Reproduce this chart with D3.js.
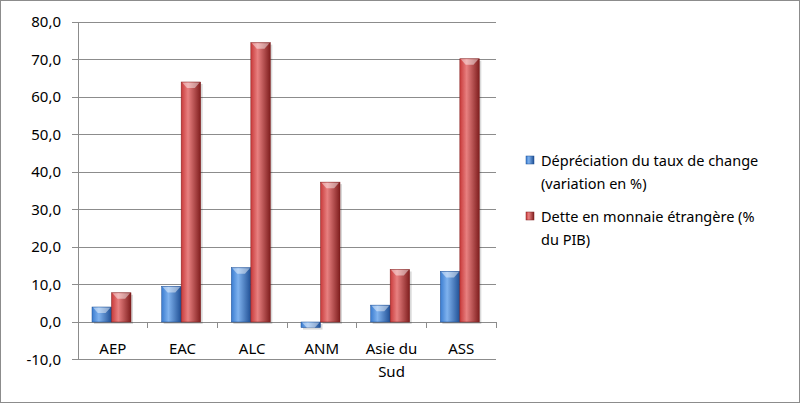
<!DOCTYPE html>
<html><head><meta charset="utf-8">
<script src="https://cdn.jsdelivr.net/npm/d3@7"></script>
<style>body{margin:0;background:#fff}text{font-family:"Noto Sans",sans-serif;fill:#000}</style>
</head><body>
<svg id="c" width="800" height="403"></svg>
<script>
const categories = ['AEP','EAC','ALC','ANM','Asie du Sud','ASS'];
const depreciation = [4.0, 9.5, 14.5, -1.5, 4.5, 13.5];
const dette = [7.8, 64.0, 74.5, 37.3, 14.0, 70.2];
const seriesNames = [['Dépréciation du taux de change','(variation en %)'],['Dette en monnaie étrangère (%','du PIB)']];
const yTicks = [-10,0,10,20,30,40,50,60,70,80];

const svg = d3.select('#c');
svg.append('rect').attr('x',0.5).attr('y',0.5).attr('width',799).attr('height',402)
  .attr('fill','#fff').attr('stroke','#8c8c8c');

const defs = svg.append('defs');
const pal = [['#7fb2ee','#3a7cd0','#1f4f94'],['#e88080','#c83a3a','#7f1e1e']];
pal.forEach((p,i)=>{
  const g = defs.append('linearGradient').attr('id','g'+i);
  g.append('stop').attr('offset','0%').attr('stop-color',p[1]);
  g.append('stop').attr('offset','35%').attr('stop-color',p[0]);
  g.append('stop').attr('offset','100%').attr('stop-color',p[2]);
});

const x = d3.scaleBand().domain(categories).range([78,496]);
const y = d3.scaleLinear().domain([-10,80]).range([359.5,22]);

// gridlines
svg.append('g').selectAll('line').data(yTicks).join('line')
  .attr('x1',72).attr('x2',496).attr('y1',d=>y(d)).attr('y2',d=>y(d))
  .attr('stroke',d=>d===0?'#8c8c8c':'#8c8c8c').attr('stroke-width',1).attr('shape-rendering','crispEdges');
svg.append('line').attr('x1',78).attr('x2',78).attr('y1',y(80)).attr('y2',y(-10))
  .attr('stroke','#8c8c8c').attr('shape-rendering','crispEdges');
svg.append('g').selectAll('text').data(yTicks).join('text')
  .attr('x',61).attr('y',d=>y(d)+5).attr('text-anchor','end').attr('font-size',15)
  .text(d=>d3.format('.1f')(d).replace('.',',').replace('−','-'));

// category ticks
const bounds = categories.map(c=>x(c)).concat([496]);
svg.append('g').selectAll('line').data(bounds).join('line')
  .attr('x1',d=>d).attr('x2',d=>d).attr('y1',y(0)).attr('y2',y(0)+6)
  .attr('stroke','#8c8c8c').attr('shape-rendering','crispEdges');

const bw = 19.5;
[depreciation,dette].forEach((vals,s)=>{
  const g = svg.append('g');
  vals.forEach((v,i)=>{
    const x0 = x(categories[i]) + 14 + s*bw;
    const top = y(Math.max(v,0)), bot = y(Math.min(v,0));
    g.append('rect').attr('x',x0+2).attr('y',top+2).attr('width',bw).attr('height',bot-top)
      .attr('fill','rgba(0,0,0,0.15)');
    g.append('rect').attr('x',x0).attr('y',top).attr('width',bw).attr('height',bot-top)
      .attr('fill','url(#g'+s+')').attr('stroke',pal[s][2]).attr('stroke-width',0.5);
    const h = Math.min(6,bot-top);
    g.append('path').attr('d',`M${x0+1},${top+0.5}L${x0+bw-1},${top+0.5}L${x0+bw*0.7},${top+h}L${x0+bw*0.3},${top+h}Z`)
      .attr('fill','rgba(255,255,255,0.45)');
  });
});

// category labels
svg.append('g').selectAll('text').data(categories).join('text')
  .attr('text-anchor','middle').attr('font-size',15)
  .each(function(d){
    const t = d3.select(this), cx = x(d)+x.bandwidth()/2;
    const parts = d==='Asie du Sud' ? ['Asie du','Sud'] : [d];
    parts.forEach((p,k)=>t.append('tspan').attr('x',cx).attr('y',354+k*23).text(p));
  });

// legend
seriesNames.forEach((lines,s)=>{
  const ly = 156 + s*56;
  svg.append('rect').attr('x',526).attr('y',ly).attr('width',8).attr('height',8)
    .attr('fill','url(#g'+s+')').attr('stroke',pal[s][2]).attr('stroke-width',0.5);
  lines.forEach((l,k)=>svg.append('text').attr('x',541).attr('y',ly+10+k*23).attr('font-size',14.5).text(l));
});
</script>
</body></html>
